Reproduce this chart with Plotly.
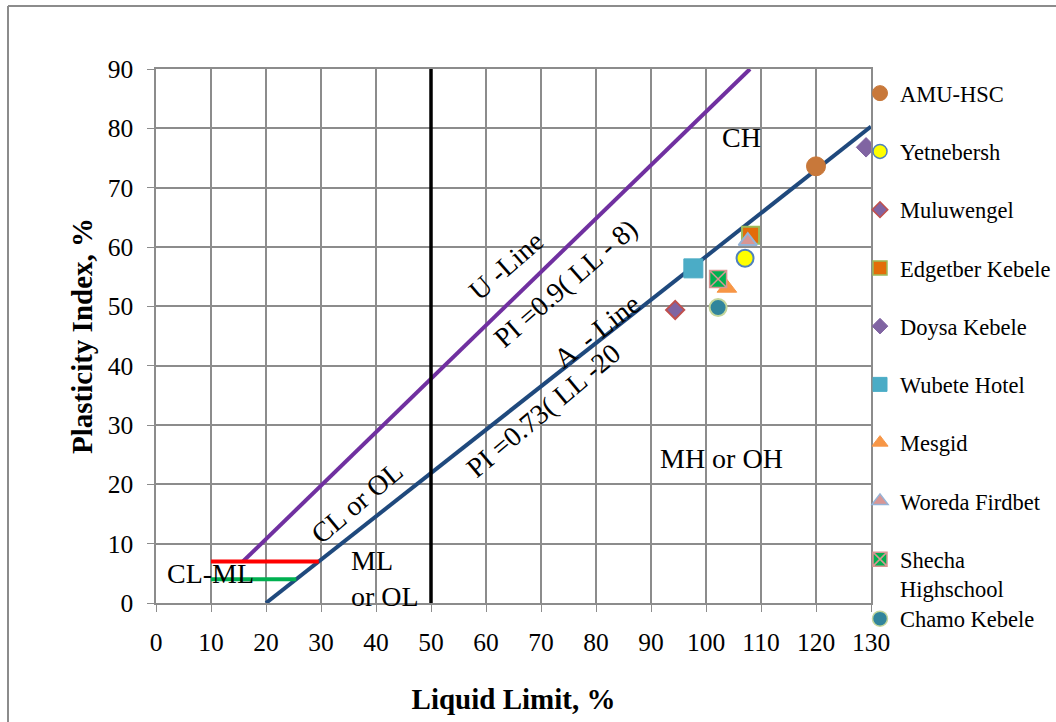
import plotly.graph_objects as go

# ---- data ----
sites = ["AMU-HSC", "Yetnebersh", "Muluwengel", "Edgetber Kebele", "Doysa Kebele",
         "Wubete Hotel", "Mesgid", "Woreda Firdbet", "Shecha<br>Highschool", "Chamo Kebele"]
liquid_limit = [120.0, 107.1, 94.4, 108.1, 129.1, 97.7, 103.8, 107.6, 102.2, 102.2]
plasticity_index = [73.6, 58.1, 49.4, 62.0, 76.8, 56.4, 53.1, 61.0, 54.6, 49.8]

u_line_ll = [15.8, 108.0]
u_line_pi = [7.0, 90.0]
a_line_ll = [20.0, 130.0]
a_line_pi = [0.0, 80.3]
red_ll = [10.0, 29.6]
red_pi = [7.0, 7.0]
green_ll = [10.0, 25.5]
green_pi = [4.0, 4.0]
ll50_ll = [50.0, 50.0]
ll50_pi = [0.0, 90.0]

x_ticks = list(range(0, 131, 10))
y_ticks = list(range(0, 91, 10))

# ---- styles: (symbol, fill, line colour, line width, plot size, legend size) ----
styles = [
    ("circle", "#C8783A", "#C8783A", 1, 19, 15),
    ("circle", "#FFFF00", "#4F81BD", 2, 17, 14),
    ("diamond", "#8064A2", "#C0504D", 2, 14, 12),
    ("square", "#E36C09", "#9BBB59", 2, 17, 14),
    ("diamond", "#8064A2", "#8064A2", 1, 15, 12),
    ("square", "#4BACC6", "#4BACC6", 1, 19, 14),
    ("triangle-up", "#F79646", "#F79646", 1, 17, 14),
    ("triangle-up", "#D99694", "#95B3D7", 2, 16, 14),
    ("square-x", "#00B050", "#D99694", 1.5, 17, 14),
    ("circle", "#31859C", "#C3D69B", 2, 17, 15),
]

FONT = "Liberation Serif, Times New Roman, serif"

fig = go.Figure()

# reference lines
fig.add_trace(go.Scatter(x=u_line_ll, y=u_line_pi, mode="lines",
                         line=dict(color="#7030A0", width=4), showlegend=False, hoverinfo="skip"))
fig.add_trace(go.Scatter(x=a_line_ll, y=a_line_pi, mode="lines",
                         line=dict(color="#1F497D", width=4), showlegend=False, hoverinfo="skip"))
fig.add_trace(go.Scatter(x=red_ll, y=red_pi, mode="lines",
                         line=dict(color="#FF0000", width=4), showlegend=False, hoverinfo="skip"))
fig.add_trace(go.Scatter(x=green_ll, y=green_pi, mode="lines",
                         line=dict(color="#00B050", width=4), showlegend=False, hoverinfo="skip"))
fig.add_trace(go.Scatter(x=ll50_ll, y=ll50_pi, mode="lines",
                         line=dict(color="#000000", width=3.5), showlegend=False, hoverinfo="skip"))

for i, (name, ll, pi, st) in enumerate(zip(sites, liquid_limit, plasticity_index, styles)):
    sym, fill, lc, lw, size, lsize = st
    # data point
    fig.add_trace(go.Scatter(
        x=[ll], y=[pi], mode="markers", name=name, showlegend=False,
        marker=dict(symbol=sym, color=fill, size=size, line=dict(color=lc, width=lw)),
    ))
    # legend entry (smaller symbol, as in the reference)
    fig.add_trace(go.Scatter(
        x=[None], y=[None], mode="markers", name=name, showlegend=True,
        legendgroup=f"g{i}",
        legend="legend2" if i == len(sites) - 1 else "legend",
        marker=dict(symbol=sym, color=fill, size=lsize, line=dict(color=lc, width=min(lw, 1.5))),
    ))

# ---- annotations ----
def ann(text, x, y, angle=0, size=28, **kw):
    fig.add_annotation(x=x, y=y, text=text, showarrow=False, textangle=angle,
                       font=dict(family=FONT, size=size, color="black"), **kw)

ann("CH", 106.5, 78.4)
ann("U -Line", 63.7, 56.9, angle=-41)
ann("PI =0.9( LL - 8)", 74.4, 53.9, angle=-41)
ann("A  - Line", 80.1, 45.7, angle=-38)
ann("PI =0.73( LL -20", 70.4, 32.5, angle=-40)
ann("CL or OL", 36.5, 17.0, angle=-40)
ann("MH or OH", 102.9, 24.4)
ann("ML<br>or OL", 35.0, 4.2, xanchor="left", align="left")
ann("CL-ML", 9.9, 5.0)

# ---- geometry of the page ----
W, H = 1056, 722
L, R, T, B = 156, 185, 69, 119
pw, ph = W - L - R, H - T - B

def px(xp):
    return (xp - L) / pw

def py(yp):
    return (H - B - yp) / ph

# outer border (left and top)
fig.add_shape(type="line", xref="paper", yref="paper", x0=px(8), x1=px(8), y0=py(6), y1=py(740),
              line=dict(color="#8C8C8C", width=2))
fig.add_shape(type="line", xref="paper", yref="paper", x0=px(8), x1=px(1070), y0=py(6), y1=py(6),
              line=dict(color="#8C8C8C", width=2))

grid = "#8C8C8C"
fig.update_layout(
    width=W, height=H,
    margin=dict(l=L, r=R, t=T, b=B, autoexpand=False),
    plot_bgcolor="white", paper_bgcolor="white",
    font=dict(family=FONT, color="black"),
    xaxis=dict(range=[0, 130], tickvals=x_ticks, ticks="outside", ticklen=7, tickcolor=grid,
               showgrid=True, gridcolor=grid, gridwidth=1.5, zeroline=False,
               showline=True, linecolor=grid, linewidth=1.5, mirror=True,
               tickfont=dict(family=FONT, size=25.5, color="black"), ticklabelstandoff=9,
               title=dict(text="<b>Liquid Limit, %</b>", font=dict(family=FONT, size=29, color="black"),
                          standoff=32)),
    yaxis=dict(range=[0, 90], tickvals=y_ticks, ticks="outside", ticklen=7, tickcolor=grid,
               showgrid=True, gridcolor=grid, gridwidth=1.5, zeroline=False,
               showline=True, linecolor=grid, linewidth=1.5, mirror=True,
               tickfont=dict(family=FONT, size=25.5, color="black"), ticklabelstandoff=9,
               title=dict(text="<b>Plasticity Index, %</b>", font=dict(family=FONT, size=29, color="black"),
                          standoff=7)),
    legend=dict(x=px(860), y=py(72), xanchor="left", yanchor="top",
                font=dict(family=FONT, size=22.5, color="black"),
                tracegroupgap=26, itemwidth=30, valign="top", bgcolor="rgba(0,0,0,0)"),
    legend2=dict(x=px(860), y=py(619), xanchor="left", yanchor="middle",
                 font=dict(family=FONT, size=22.5, color="black"),
                 itemwidth=30, bgcolor="rgba(0,0,0,0)"),
)

fig.write_html("out.html", config={"displayModeBar": False},
               post_script="document.body.style.margin='0px';")
